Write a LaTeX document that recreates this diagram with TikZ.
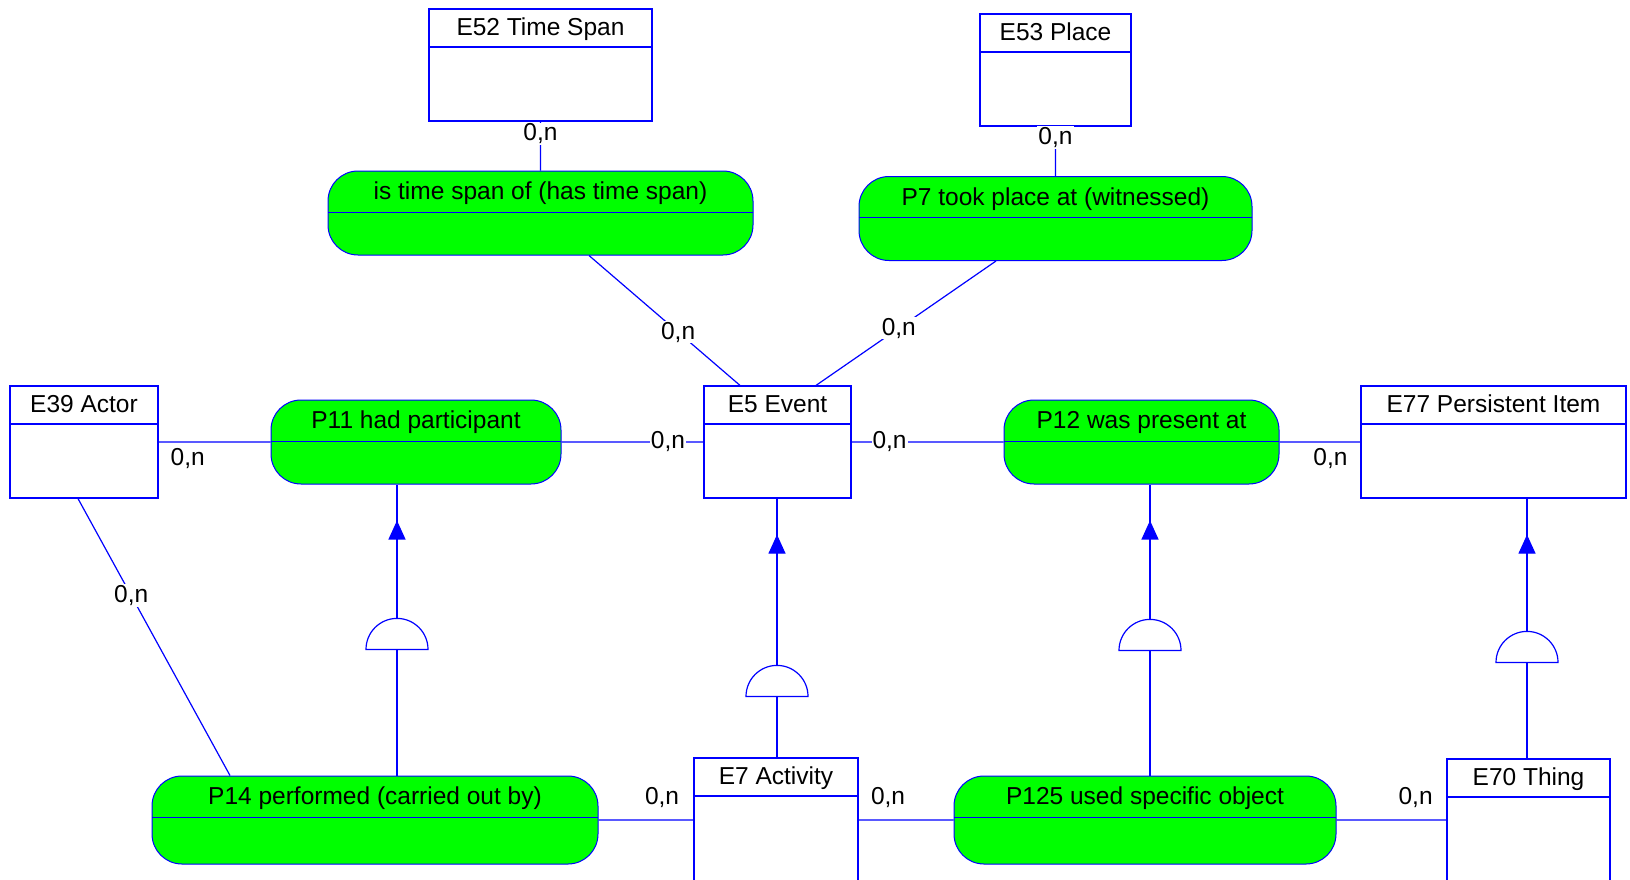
\documentclass[tikz,border=0pt]{standalone}
\usepackage{fontspec}
\setmainfont{Liberation Sans}
\usetikzlibrary{positioning, arrows.meta, shapes.geometric, decorations.markings}
\definecolor{linkblue}{RGB}{0,0,255}
\definecolor{relgreen}{RGB}{0,255,0}
\tikzset{
  x=1pt, y=-1pt,
  every node/.style={font=\fontsize{24.5}{29}\selectfont},
  entity/.style={
    draw=linkblue, fill=white, line width=1.2pt, inner sep=0pt, minimum height=112pt,
    path picture={\draw[linkblue, line width=1.2pt]
      ([yshift=-38pt]path picture bounding box.north west) --
      ([yshift=-38pt]path picture bounding box.north east);},
    label={[anchor=base, yshift=-27.5pt]north:#1}
  },
  rel/.style={
    rectangle, rounded corners=30pt,
    draw=linkblue, fill=relgreen, line width=1pt, inner sep=0pt, minimum height=84pt,
    path picture={\draw[linkblue, line width=1pt]
      ([yshift=-41pt]path picture bounding box.north west) --
      ([yshift=-41pt]path picture bounding box.north east);},
    label={[anchor=base, yshift=-29pt]north:#1}
  },
  gen/.style={
    semicircle, draw=linkblue, fill=white, line width=1.2pt,
    inner sep=0pt, minimum width=62pt, minimum height=31pt
  },
  link/.style={color=linkblue, line width=1.2pt},
  card/.style={fill=white, text=black, inner sep=1pt},
  isa/.style={postaction={decorate}, decoration={markings,
    mark=at position -36pt with {\arrow{Triangle[length=19pt, width=17pt]}}}}
}

\begin{document}
\begin{tikzpicture}
    \clip (0,0) rectangle (1630,879);

    % classes
    \node[entity=E52 Time Span, minimum width=223pt] (e52) at (540.5,65) {};
    \node[entity=E53 Place, minimum width=151pt] (e53) at (1055.5,70) {};
    \node[entity=E39 Actor, minimum width=148pt] (e39) at (84,442) {};
    \node[entity=E5 Event, minimum width=147pt] (e5) at (777.5,442) {};
    \node[entity=E77 Persistent Item, minimum width=265pt] (e77) at (1493.5,442) {};
    \node[entity=E7 Activity, minimum width=164pt, minimum height=130pt] (e7) at (776,823) {};
    \node[entity=E70 Thing, minimum width=163pt, minimum height=130pt] (e70) at (1528.5,824) {};

    % properties
    \node[rel=is time span of (has time span), minimum width=425pt] (r52) at (540.5,213) {};
    \node[rel=P7 took place at (witnessed), minimum width=393pt] (r7) at (1055.5,218.5) {};
    \node[rel=P11 had participant, minimum width=290pt] (r11) at (416,442) {};
    \node[rel=P12 was present at, minimum width=275pt] (r12) at (1141.5,442) {};
    \node[rel=P14 performed (carried out by), minimum width=446pt, minimum height=88pt] (r14) at (375,820) {};
    \node[rel=P125 used specific object, minimum width=382pt, minimum height=88pt] (r125) at (1145,820) {};

    % subclass / subproperty marks
    \node[gen, anchor=chord center] (g11) at (397,650) {};
    \node[gen, anchor=chord center] (g5) at (777,697) {};
    \node[gen, anchor=chord center] (g12) at (1150,651) {};
    \node[gen, anchor=chord center] (g77) at (1527,663) {};

    \draw[link] (e52) -- node[card, pos=0.25] {0,n} (r52)
          (e53) -- node[card, pos=0.22] {0,n} (r7)
          ([xshift=48.5pt]r52.south) -- node[card, pos=0.59] {0,n} ([xshift=-37.5pt]e5.north)
          ([xshift=-59.5pt]r7.south) -- node[card, pos=0.54] {0,n} ([xshift=38.5pt]e5.north)
          (e39) -- node[card, pos=0.26, yshift=-17pt] {0,n} (r11)
          (r11) -- node[card, pos=0.75] {0,n} (e5)
          (e5) -- node[card, pos=0.25] {0,n} (r12)
          (r12) -- node[card, pos=0.63, yshift=-17pt] {0,n} (e77)
          ([xshift=-6pt]e39.south) -- node[card, pos=0.35] {0,n} ([xshift=-145pt]r14.north)
          (r14) -- node[card, pos=0.67, yshift=23pt] {0,n} (r14 -| e7.west)
          (e7.east |- r125) -- node[card, pos=0.31, yshift=23pt] {0,n} (r125)
          (r125) -- node[card, pos=0.72, yshift=23pt] {0,n} (r125 -| e70.west);

    \draw[link] (g11.chord center) -- (g11.chord center |- r14.north)
          (g5.chord center) -- (g5.chord center |- e7.north)
          (g12.chord center) -- (g12.chord center |- r125.north)
          (g77.chord center) -- (g77.chord center |- e70.north);
    \draw[link, isa] (g11.apex) -- (g11.apex |- r11.south);
    \draw[link, isa] (g5.apex) -- (g5.apex |- e5.south);
    \draw[link, isa] (g12.apex) -- (g12.apex |- r12.south);
    \draw[link, isa] (g77.apex) -- (g77.apex |- e77.south);
  \end{tikzpicture}
\end{document}
